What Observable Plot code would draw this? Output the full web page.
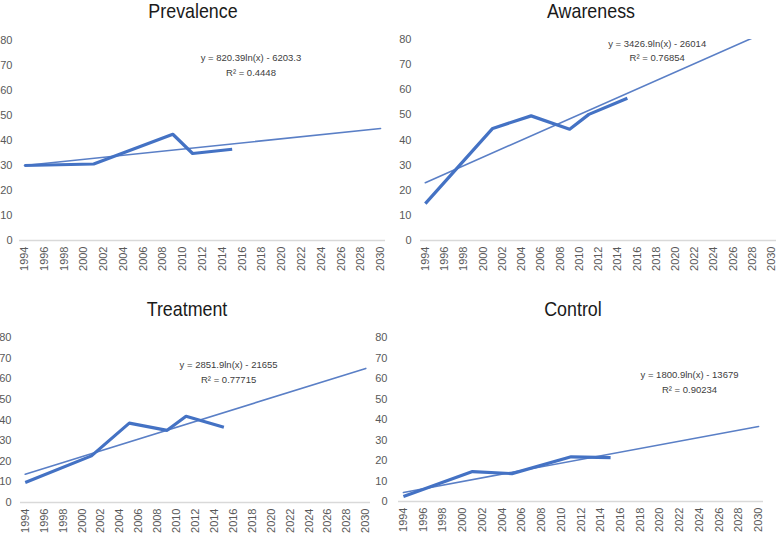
<!DOCTYPE html>
<html>
<head>
<meta charset="utf-8">
<script src="https://cdn.jsdelivr.net/npm/d3@7"></script>
<script src="https://cdn.jsdelivr.net/npm/@observablehq/plot@0.6"></script>
<style>
  html, body { margin: 0; padding: 0; background: #fff; }
  #wrap { position: relative; width: 777px; height: 536px; overflow: hidden; background: #fff; }
  .panel { position: absolute; }
  .panel svg { background: transparent !important; overflow: visible; }
  .title { position: absolute; width: 220px; text-align: center; font-family: "Liberation Sans Narrow", "Arial Narrow", "Liberation Sans", sans-serif; font-size: 21px; line-height: 21px; color: #1a1a1a; transform: scaleX(0.85); transform-origin: 50% 50%; }
</style>
</head>
<body>
<div id="wrap"></div>
<script>
// ---- Data ----
const titles = ["Prevalence", "Awareness", "Treatment", "Control"];

const prevalenceYears = [1994, 2001, 2009, 2011, 2015];
const prevalenceValues = [30, 30.6, 42.5, 34.8, 36.5];
const prevalenceTrendYears = [1994, 2030];
const prevalenceTrendValues = [30, 44.8];

const awarenessYears = [1994, 2001, 2005, 2009, 2011, 2015];
const awarenessValues = [14.7, 44.6, 49.6, 44.3, 50.2, 56.6];
const awarenessTrendYears = [1994, 2028];
const awarenessTrendValues = [23, 80.6];

const treatmentYears = [1994, 2001, 2005, 2009, 2011, 2015];
const treatmentValues = [9.7, 22.6, 38.5, 35, 41.8, 36.5];
const treatmentTrendYears = [1994, 2030];
const treatmentTrendValues = [13.7, 65];

const controlYears = [1994, 2001, 2005, 2011, 2015];
const controlValues = [2.4, 14.6, 13.6, 21.8, 21.4];
const controlTrendYears = [1994, 2030];
const controlTrendValues = [4.4, 36.6];

const equations = ["y = 820.39ln(x) - 6203.3", "y = 3426.9ln(x) - 26014", "y = 2851.9ln(x) - 21655", "y = 1800.9ln(x) - 13679"];
const rSquared = ["R\u00B2 = 0.4448", "R\u00B2 = 0.76854", "R\u00B2 = 0.77715", "R\u00B2 = 0.90234"];

const yearTicks = d3.range(1994, 2031, 2);
const valueTicks = [0, 10, 20, 30, 40, 50, 60, 70, 80];

// ---- Layout ----
const panels = [
  {years: prevalenceYears, values: prevalenceValues, tYears: prevalenceTrendYears, tValues: prevalenceTrendValues,
   left: 0, top: 0, width: 388, height: 290, mL: 19, mR: 3, mT: 40, mB: 50, pad: 7,
   eqX: 2016.9, eqY: 73.2, r2Y: 67.2, titleX: 193, titleY: 0},
  {years: awarenessYears, values: awarenessValues, tYears: awarenessTrendYears, tValues: awarenessTrendValues,
   left: 388, top: 0, width: 389, height: 290, mL: 32, mR: 1, mT: 39, mB: 50, pad: 9,
   eqX: 2018.1, eqY: 78.4, r2Y: 72.8, titleX: 591, titleY: 0},
  {years: treatmentYears, values: treatmentValues, tYears: treatmentTrendYears, tValues: treatmentTrendValues,
   left: 0, top: 290, width: 372, height: 246, mL: 20, mR: 2, mT: 47, mB: 34, pad: 9,
   eqX: 2015.5, eqY: 66.9, r2Y: 59.6, titleX: 187, titleY: 298},
  {years: controlYears, values: controlValues, tYears: controlTrendYears, tValues: controlTrendValues,
   left: 370, top: 290, width: 407, height: 246, mL: 28, mR: 14, mT: 47, mB: 35, pad: 11,
   eqX: 2023, eqY: 61.9, r2Y: 54.6, titleX: 573, titleY: 298}
];

const wrap = document.getElementById("wrap");
const blue = "#4472C4";
const trendBlue = "#5a7fc6";

panels.forEach((p, i) => {
  const series = p.years.map((yr, k) => ({year: yr, value: p.values[k]}));
  const trend = p.tYears.map((yr, k) => ({year: yr, value: p.tValues[k]}));
  const chart = Plot.plot({
    width: p.width,
    height: p.height,
    marginLeft: p.mL,
    marginRight: p.mR,
    marginTop: p.mT,
    marginBottom: p.mB,
    style: {background: "transparent", fontFamily: "'Liberation Sans', Arial, sans-serif", fontSize: "11px", color: "#595959", overflow: "visible"},
    x: {domain: [1993.5, 2030.5], ticks: yearTicks, tickFormat: "d", tickRotate: -90, tickSize: 0, tickPadding: 6, label: null},
    y: {domain: [0, 80], ticks: valueTicks, tickSize: 0, tickPadding: p.pad, label: null},
    marks: [
      Plot.axisY({ticks: valueTicks, tickSize: 0, tickPadding: p.pad, label: null,
        fontFamily: "'Liberation Sans Narrow', 'Arial Narrow', 'Liberation Sans', sans-serif", fontSize: 11}),
      Plot.ruleY([0], {stroke: "#d9d9d9", strokeWidth: 1.5}),
      Plot.line(trend, {x: "year", y: "value", stroke: trendBlue, strokeWidth: 1.6, clip: true}),
      Plot.line(series, {x: "year", y: "value", stroke: blue, strokeWidth: 3.2, strokeLinejoin: "round", strokeLinecap: "butt"}),
      Plot.text([equations[i]], {x: () => p.eqX, y: () => p.eqY, text: d => d, fill: "#404040",
        fontFamily: "'Liberation Sans Narrow', 'Arial Narrow', sans-serif", fontSize: 9.5}),
      Plot.text([rSquared[i]], {x: () => p.eqX, y: () => p.r2Y, text: d => d, fill: "#404040",
        fontFamily: "'Liberation Sans Narrow', 'Arial Narrow', sans-serif", fontSize: 9.5})
    ]
  });
  const div = document.createElement("div");
  div.className = "panel";
  div.style.left = p.left + "px";
  div.style.top = p.top + "px";
  div.appendChild(chart);
  wrap.appendChild(div);

  const t = document.createElement("div");
  t.className = "title";
  t.textContent = titles[i];
  t.style.left = (p.titleX - 110) + "px";
  t.style.top = p.titleY + "px";
  wrap.appendChild(t);
});
</script>
</body>
</html>
